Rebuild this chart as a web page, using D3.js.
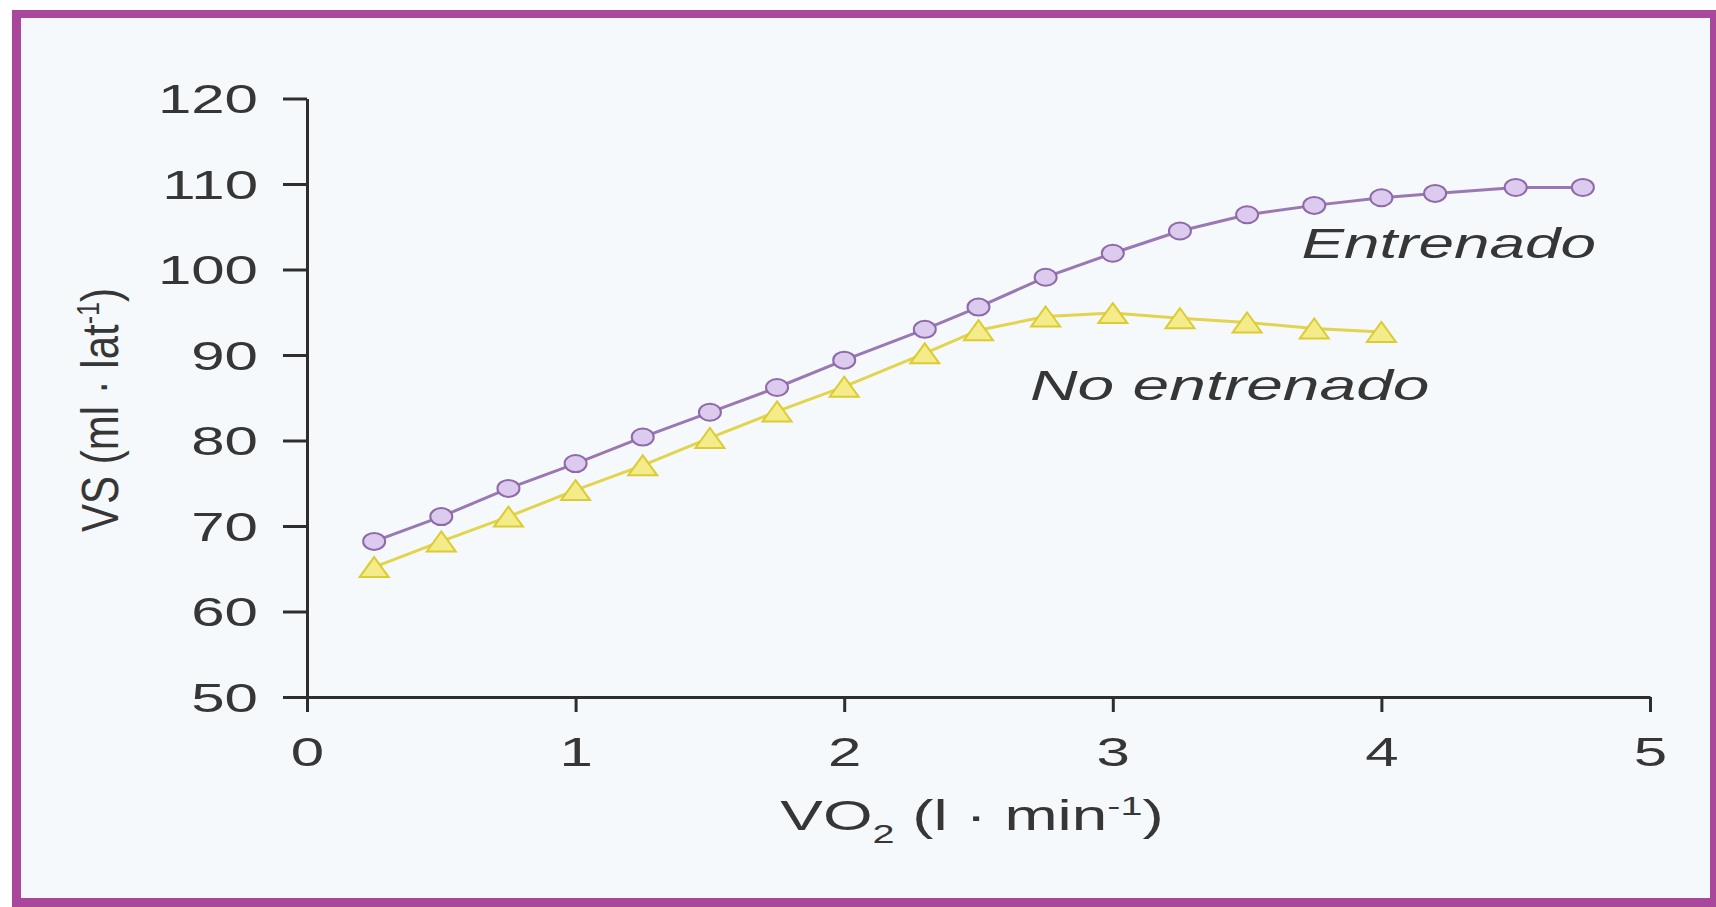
<!DOCTYPE html>
<html>
<head>
<meta charset="utf-8">
<script src="https://cdn.jsdelivr.net/npm/d3@7"></script>
<style>
  html, body { margin: 0; padding: 0; background: #ffffff; }
  svg { display: block; }
  text { font-family: "Liberation Sans", Arial, Helvetica, sans-serif; fill: #363636; }
</style>
</head>
<body>
<script>
// ---- data ----
const trainedVO2   = [0.25, 0.5, 0.75, 1.0, 1.25, 1.5, 1.75, 2.0, 2.3, 2.5, 2.75, 3.0, 3.25, 3.5, 3.75, 4.0, 4.2, 4.5, 4.75];
const trainedVS    = [68.2, 71.1, 74.4, 77.3, 80.4, 83.3, 86.2, 89.4, 93.0, 95.6, 99.1, 101.9, 104.5, 106.4, 107.5, 108.4, 108.9, 109.6, 109.6];
const untrainedVO2 = [0.25, 0.5, 0.75, 1.0, 1.25, 1.5, 1.75, 2.0, 2.3, 2.5, 2.75, 3.0, 3.25, 3.5, 3.75, 4.0];
const untrainedVS  = [65.2, 68.2, 71.1, 74.2, 77.1, 80.3, 83.4, 86.3, 90.2, 92.9, 94.5, 94.9, 94.3, 93.8, 93.1, 92.7];
const xTicks = [0, 1, 2, 3, 4, 5];
const yTicks = [50, 60, 70, 80, 90, 100, 110, 120];
const seriesLabels = ["Entrenado", "No entrenado"];

// ---- layout ----
const W = 1716, H = 907;
const SX = 1.5; // horizontal stretch of the reference's lettering

const svg = d3.select("body").append("svg").attr("width", W).attr("height", H);

// frame
svg.append("rect").attr("x", 0).attr("y", 0).attr("width", W).attr("height", H).attr("fill", "#ffffff");
svg.append("rect").attr("x", 12).attr("y", 10).attr("width", W - 12).attr("height", H - 10).attr("fill", "#a9479c");
svg.append("rect").attr("x", 21).attr("y", 18).attr("width", 1710 - 21).attr("height", 898 - 18).attr("fill", "#f5f9fb");

const x = d3.scaleLinear().domain([0, 5]).range([307, 1650]);
const y = d3.scaleLinear().domain([50, 120]).range([697, 98.5]);

// ---- axes ----
const yAxis = svg.append("g").attr("transform", `translate(${x(0)},0)`)
  .call(d3.axisLeft(y).tickValues(yTicks).tickFormat(d3.format("d")).tickSize(24).tickSizeOuter(0));
const xAxis = svg.append("g").attr("transform", `translate(0,${y(50)})`)
  .call(d3.axisBottom(x).tickValues(xTicks).tickFormat(d3.format("d")).tickSize(15).tickSizeOuter(0));

[yAxis, xAxis].forEach(g => {
  g.select(".domain").attr("stroke", "#2e2e2e").attr("stroke-width", 3);
  g.selectAll(".tick line").attr("stroke", "#2e2e2e").attr("stroke-width", 3);
  g.selectAll(".tick text").attr("font-size", 40).attr("fill", "#363636")
    .style("font-family", '"Liberation Sans", Arial, sans-serif');
});
yAxis.selectAll(".tick text")
  .attr("x", 0).attr("dy", "0.36em")
  .attr("transform", `translate(-49,0) scale(${SX},1)`);
xAxis.selectAll(".tick text")
  .attr("y", 0).attr("dy", 0)
  .attr("transform", `translate(0,69) scale(${SX},1)`);

// ---- axis titles ----
const xt = svg.append("text")
  .attr("transform", `translate(972,830) scale(1.52,1)`)
  .attr("text-anchor", "middle").attr("font-size", 42);
xt.append("tspan").text("VO");
xt.append("tspan").attr("font-size", 26).attr("dy", 13).text("2");
xt.append("tspan").attr("dy", -13).text(" (l · min");
xt.append("tspan").attr("font-size", 26).attr("dy", -15).text("-1");
xt.append("tspan").attr("dy", 15).text(")");

const yt = svg.append("text")
  .attr("transform", `translate(118,410) scale(1.25,1) rotate(-90)`)
  .attr("text-anchor", "middle").attr("font-size", 42);
yt.append("tspan").text("VS (ml · lat");
yt.append("tspan").attr("font-size", 25).attr("dy", -15).text("-1");
yt.append("tspan").attr("dy", 15).text(")");

// ---- series ----
const trained = trainedVO2.map((v, i) => ({ vo2: v, vs: trainedVS[i] }));
const untrained = untrainedVO2.map((v, i) => ({ vo2: v, vs: untrainedVS[i] }));
const line = d3.line().x(d => x(d.vo2)).y(d => y(d.vs));

svg.append("path").datum(untrained).attr("d", line)
  .attr("fill", "none").attr("stroke", "#e2d44c").attr("stroke-width", 3);
svg.append("path").datum(trained).attr("d", line)
  .attr("fill", "none").attr("stroke", "#9a78b4").attr("stroke-width", 3);

const triW = 29, triH = 20;
const triPath = `M0,${-triH / 2}L${triW / 2},${triH / 2}L${-triW / 2},${triH / 2}Z`;
svg.append("g").selectAll("path").data(untrained).join("path")
  .attr("d", triPath)
  .attr("transform", d => `translate(${x(d.vo2)},${y(d.vs)})`)
  .attr("fill", "#f4ec8a").attr("stroke", "#dccc34").attr("stroke-width", 2);

svg.append("g").selectAll("ellipse").data(trained).join("ellipse")
  .attr("cx", d => x(d.vo2)).attr("cy", d => y(d.vs))
  .attr("rx", 11).attr("ry", 8.5)
  .attr("fill", "#dccbef").attr("stroke", "#8e6aa8").attr("stroke-width", 2);

// ---- series labels ----
svg.append("text")
  .attr("transform", `translate(1596,258) scale(1.52,1)`)
  .attr("text-anchor", "end").attr("font-size", 42).attr("font-style", "italic")
  .text(seriesLabels[0]);
svg.append("text")
  .attr("transform", `translate(1030,400) scale(1.57,1)`)
  .attr("text-anchor", "start").attr("font-size", 42).attr("font-style", "italic")
  .text(seriesLabels[1]);
</script>
</body>
</html>
